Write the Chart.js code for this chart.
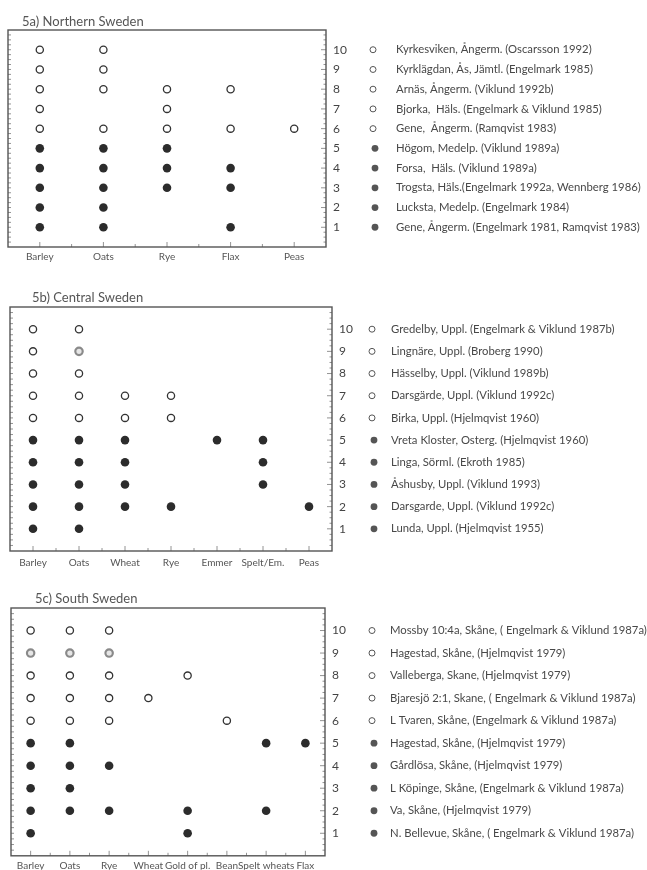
<!DOCTYPE html>
<html><head><meta charset="utf-8">
<script src="https://cdn.jsdelivr.net/npm/chart.js@4.4.1/dist/chart.umd.min.js"></script>
<style>
html,body{margin:0;padding:0;background:#fff;width:647px;height:870px;overflow:hidden}
.panel{position:absolute;left:0;width:647px}
canvas{display:block}
</style></head><body>
<div class="panel" id="pa" style="top:0;height:275px"><canvas id="ca"></canvas></div>
<div class="panel" id="pb" style="top:280px;height:295px"><canvas id="cb"></canvas></div>
<div class="panel" id="pc" style="top:580px;height:290px"><canvas id="cc"></canvas></div>
<script>
// ---------- DATA ----------
const yTickLabels = ['1','2','3','4','5','6','7','8','9','10'];

// 5a) Northern Sweden
const northTitle = '5a) Northern Sweden';
const northCrops = ['Barley','Oats','Rye','Flax','Peas'];
// site numbers (1-10) where each crop was found
const northFinds = [
  [1,2,3,4,5,6,7,8,9,10],
  [1,2,3,4,5,6,8,9,10],
  [3,4,5,6,7,8],
  [1,3,4,6,8],
  [6]
];
const northGreyRings = [];
const northSites = [
  'Gene, Ångerm. (Engelmark 1981, Ramqvist 1983)',
  'Lucksta, Medelp. (Engelmark 1984)',
  'Trogsta, Häls.(Engelmark 1992a, Wennberg 1986)',
  'Forsa,  Häls. (Viklund 1989a)',
  'Högom, Medelp. (Viklund 1989a)',
  'Gene,  Ångerm. (Ramqvist 1983)',
  'Bjorka,  Häls. (Engelmark & Viklund 1985)',
  'Arnäs, Ångerm. (Viklund 1992b)',
  'Kyrklägdan, Ås, Jämtl. (Engelmark 1985)',
  'Kyrkesviken, Ångerm. (Oscarsson 1992)'
];

// 5b) Central Sweden
const centralTitle = '5b) Central Sweden';
const centralCrops = ['Barley','Oats','Wheat','Rye','Emmer','Spelt/Em.','Peas'];
const centralFinds = [
  [1,2,3,4,5,6,7,8,9,10],
  [1,2,3,4,5,6,7,8,9,10],
  [2,3,4,5,6,7],
  [2,6,7],
  [5],
  [3,4,5],
  [2]
];
const centralGreyRings = ['Oats:9'];
const centralSites = [
  'Lunda, Uppl. (Hjelmqvist 1955)',
  'Darsgarde, Uppl. (Viklund 1992c)',
  'Åshusby, Uppl. (Viklund 1993)',
  'Linga, Sörml. (Ekroth 1985)',
  'Vreta Kloster, Osterg. (Hjelmqvist 1960)',
  'Birka, Uppl. (Hjelmqvist 1960)',
  'Darsgärde, Uppl. (Viklund 1992c)',
  'Hässelby, Uppl. (Viklund 1989b)',
  'Lingnäre, Uppl. (Broberg 1990)',
  'Gredelby, Uppl. (Engelmark & Viklund 1987b)'
];

// 5c) South Sweden
const southTitle = '5c) South Sweden';
const southCrops = ['Barley','Oats','Rye','Wheat','Gold of pl.','Bean','Spelt wheats','Flax'];
const southFinds = [
  [1,2,3,4,5,6,7,8,9,10],
  [2,3,4,5,6,7,8,9,10],
  [2,4,6,7,8,9,10],
  [7],
  [1,2,8],
  [6],
  [2,5],
  [5]
];
const southGreyRings = ['Barley:9','Oats:9','Rye:9'];
const southSites = [
  'N. Bellevue, Skåne, ( Engelmark & Viklund 1987a)',
  'Va, Skåne, (Hjelmqvist 1979)',
  'L Köpinge, Skåne, (Engelmark & Viklund 1987a)',
  'Gårdlösa, Skåne, (Hjelmqvist 1979)',
  'Hagestad, Skåne, (Hjelmqvist 1979)',
  'L Tvaren, Skåne, (Engelmark & Viklund 1987a)',
  'Bjaresjö 2:1, Skane, ( Engelmark & Viklund 1987a)',
  'Valleberga, Skane, (Hjelmqvist 1979)',
  'Hagestad, Skåne, (Hjelmqvist 1979)',
  'Mossby 10:4a, Skåne, ( Engelmark & Viklund 1987a)'
];

// ---------- LAYOUT ----------
const W = 647;
const FONT = 'Lato, "Open Sans", sans-serif';

function makePanel(canvasId, title, crops, finds, greyRings, sites, g) {
  const filled = [], open = [], grey = [];
  finds.forEach((list, ci) => list.forEach(s => {
    const pt = {x: crops[ci], y: s};
    if (s <= 5) filled.push(pt);
    else if (greyRings.includes(crops[ci] + ':' + s)) grey.push(pt);
    else open.push(pt);
  }));

  const framePlugin = {
    id: 'frame',
    afterDraw(chart) {
      const {ctx, chartArea: a, scales: {x, y}} = chart;
      ctx.save();
      // ticks
      ctx.strokeStyle = '#777';
      ctx.lineWidth = 0.8;
      ctx.beginPath();
      for (let v = 0.25; v < 11; v += 0.25) {
        const py = y.getPixelForValue(v);
        const major = Math.abs(v - Math.round(v)) < 1e-6;
        ctx.moveTo(a.left, py); ctx.lineTo(a.left + 3, py);
        ctx.moveTo(a.right, py); ctx.lineTo(a.right - (major ? 5 : 2.5), py);
      }
      for (let i = 0; i < crops.length; i++) {
        const px = x.getPixelForValue(i);
        ctx.moveTo(px, a.bottom); ctx.lineTo(px, a.bottom - 5);
        if (i < crops.length - 1) {
          const pm = (px + x.getPixelForValue(i + 1)) / 2;
          ctx.moveTo(pm, a.bottom); ctx.lineTo(pm, a.bottom - 3);
        }
      }
      ctx.stroke();
      // frame
      ctx.strokeStyle = '#555';
      ctx.lineWidth = 1.4;
      ctx.strokeRect(a.left, a.top, a.right - a.left, a.bottom - a.top);
      // title
      ctx.fillStyle = '#555';
      ctx.font = '13px ' + FONT;
      ctx.textBaseline = 'alphabetic';
      ctx.textAlign = 'left';
      ctx.fillText(title, g.titleX, g.titleY);
      // legend
      ctx.font = '11.3px ' + FONT;
      ctx.textBaseline = 'middle';
      sites.forEach((name, i) => {
        const v = i + 1;
        const py = y.getPixelForValue(v);
        ctx.beginPath();
        if (v <= 5) {
          ctx.fillStyle = '#555';
          ctx.arc(g.markX + 2, py, 3.4, 0, Math.PI * 2);
          ctx.fill();
        } else {
          ctx.strokeStyle = '#555';
          ctx.lineWidth = 1;
          ctx.arc(g.markX, py, 3, 0, Math.PI * 2);
          ctx.stroke();
        }
        ctx.fillStyle = '#484848';
        ctx.fillText(name, g.textX, py);
      });
      ctx.restore();
    }
  };

  return new Chart(document.getElementById(canvasId), {
    type: 'line',
    data: {
      labels: crops,
      datasets: [
        {data: filled, showLine: false, pointRadius: 4.3, pointHoverRadius: 4.3,
         pointBackgroundColor: '#2c2c2c', pointBorderWidth: 0, pointBorderColor: '#2c2c2c'},
        {data: open, showLine: false, pointRadius: 3.6, pointHoverRadius: 3.6,
         pointBackgroundColor: '#fff', pointBorderColor: '#333', pointBorderWidth: 1.3},
        {data: grey, showLine: false, pointRadius: 3.7, pointHoverRadius: 3.7,
         pointBackgroundColor: '#e6e6e6', pointBorderColor: '#8a8a8a', pointBorderWidth: 2.2}
      ]
    },
    options: {
      responsive: true,
      maintainAspectRatio: false,
      animation: false,
      events: [],
      layout: {padding: {left: g.left, top: g.top, right: 0, bottom: 0}},
      plugins: {legend: {display: false}, title: {display: false}, tooltip: {enabled: false}},
      scales: {
        x: {
          type: 'category', offset: true,
          grid: {display: false, drawTicks: false}, border: {display: false},
          ticks: {autoSkip: false, maxRotation: 0, minRotation: 0, padding: g.xPad,
                  color: '#555', font: {family: FONT, size: 10}},
          afterFit: s => { s.height = g.height - g.bottom; }
        },
        y: {
          position: 'right', min: 0, max: 11,
          grid: {display: false, drawTicks: false}, border: {display: false},
          ticks: {stepSize: 1, padding: g.yPad, color: '#444', font: {family: FONT, size: 12},
                  callback: v => (v >= 1 && v <= 10) ? yTickLabels[v - 1] : ''},
          afterFit: s => { s.width = W - g.right; }
        }
      }
    },
    plugins: [framePlugin]
  });
}

makePanel('ca', northTitle, northCrops, northFinds, northGreyRings, northSites,
  {height: 275, left: 8, top: 30, right: 326, bottom: 247, xPad: 4, yPad: 7,
   titleX: 22, titleY: 26, markX: 373, textX: 396});
makePanel('cb', centralTitle, centralCrops, centralFinds, centralGreyRings, centralSites,
  {height: 295, left: 10, top: 27, right: 332, bottom: 271, xPad: 6, yPad: 7,
   titleX: 32, titleY: 22, markX: 372, textX: 391});
makePanel('cc', southTitle, southCrops, southFinds, southGreyRings, southSites,
  {height: 290, left: 11, top: 28, right: 325, bottom: 276, xPad: 4, yPad: 7,
   titleX: 35, titleY: 23, markX: 372, textX: 390});
</script>
</body></html>
